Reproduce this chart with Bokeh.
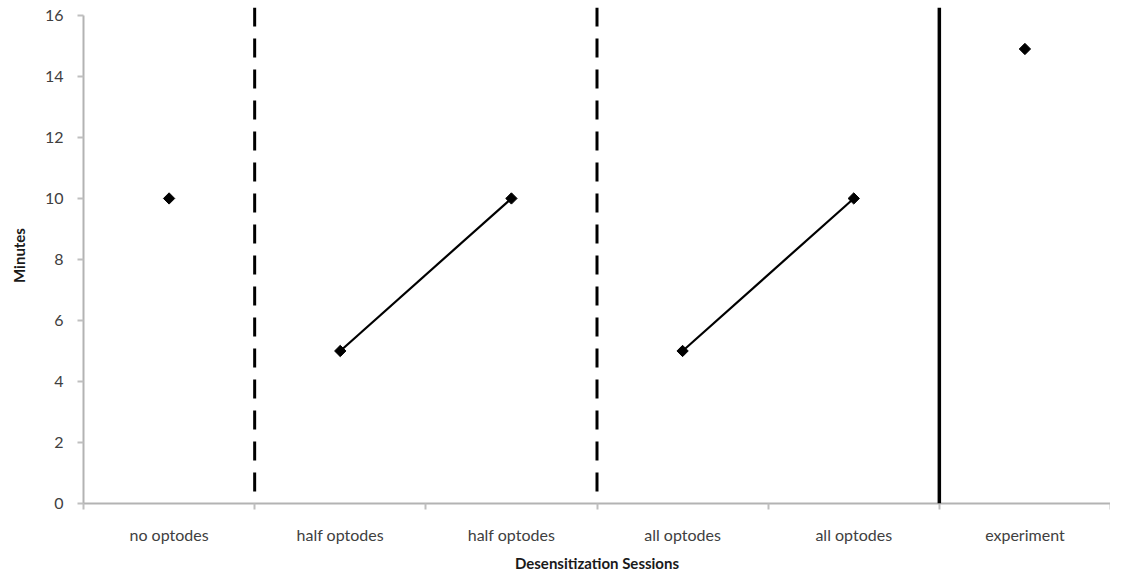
import math
from bokeh.plotting import figure
from bokeh.models import FixedTicker, Span, Range1d
from bokeh.embed import file_html
from bokeh.resources import INLINE

categories = ["no optodes", "half optodes", "half optodes", "all optodes", "all optodes", "experiment"]
minutes = [10, 5, 10, 5, 10, 14.9]
connected_pairs = [(1, 2), (3, 4)]
dashed_separators = [1, 3]
solid_separators = [5]
y_ticks = [0, 2, 4, 6, 8, 10, 12, 14, 16]

FONT = "Lato"
n = len(categories)
xs = [i + 0.5 for i in range(n)]

p = figure(width=1110, height=574, output_backend="svg", toolbar_location=None,
           x_range=Range1d(0, n), y_range=Range1d(0, 16.26),
           min_border_left=83, min_border_bottom=71, min_border_top=7, min_border_right=0)
p.outline_line_color = None
p.grid.grid_line_color = None

for a, b in connected_pairs:
    p.line([xs[a], xs[b]], [minutes[a], minutes[b]], line_color="black", line_width=2.2)

for s in dashed_separators:
    p.add_layout(Span(location=s, dimension="height", line_color="black",
                      line_width=3, line_dash="19 12"))
for s in solid_separators:
    p.add_layout(Span(location=s, dimension="height", line_color="black", line_width=3.5))

p.scatter(xs, minutes, marker="square", angle=math.pi / 4, size=8, color="black")

# x axis
p.xaxis.ticker = FixedTicker(ticks=xs, minor_ticks=list(range(n + 1)))
p.xaxis.major_label_overrides = {x: c for x, c in zip(xs, categories)}
p.xaxis.major_tick_line_color = None
p.xaxis.major_tick_out = 0
p.xaxis.minor_tick_line_color = "#bfbfbf"
p.xaxis.minor_tick_line_width = 2
p.xaxis.minor_tick_out = 6
p.xaxis.minor_tick_in = 0
p.xaxis.axis_line_color = "#b3b3b3"
p.xaxis.axis_line_width = 2
p.xaxis.major_label_standoff = 15
p.xaxis.major_label_text_font = FONT
p.xaxis.major_label_text_font_size = "16px"
p.xaxis.major_label_text_color = "#404040"
p.xaxis.axis_label = "Desensitization Sessions"
p.xaxis.axis_label_text_font = FONT
p.xaxis.axis_label_text_font_style = "bold"
p.xaxis.axis_label_text_font_size = "15px"
p.xaxis.axis_label_text_color = "#1a1a1a"
p.xaxis.axis_label_standoff = 7

# y axis
p.yaxis.ticker = FixedTicker(ticks=y_ticks)
p.yaxis.bounds = (0, 16)
p.yaxis.minor_tick_line_color = None
p.yaxis.major_tick_line_color = "#bfbfbf"
p.yaxis.major_tick_line_width = 2
p.yaxis.major_tick_out = 6
p.yaxis.major_tick_in = 0
p.yaxis.axis_line_color = "#b3b3b3"
p.yaxis.axis_line_width = 2
p.yaxis.major_label_standoff = 14
p.yaxis.major_label_text_font = FONT
p.yaxis.major_label_text_font_size = "16px"
p.yaxis.major_label_text_color = "#404040"
p.yaxis.axis_label = "Minutes"
p.yaxis.axis_label_text_font = FONT
p.yaxis.axis_label_text_font_style = "bold"
p.yaxis.axis_label_text_font_size = "15px"
p.yaxis.axis_label_text_color = "#1a1a1a"
p.yaxis.axis_label_standoff = 14

open("out.html", "w").write(file_html(p, INLINE))
